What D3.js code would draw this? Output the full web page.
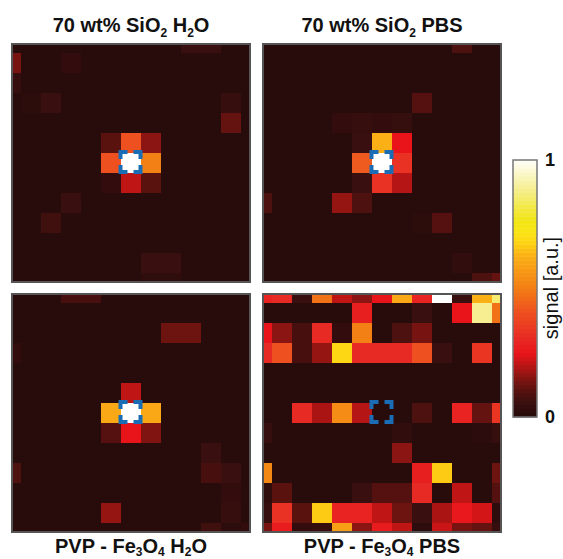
<!DOCTYPE html>
<html>
<head>
<meta charset="utf-8">
<script src="https://cdn.jsdelivr.net/npm/d3@7"></script>
<style>
  html, body { margin: 0; padding: 0; background: #fff; overflow: hidden; }
  text { font-family: "Liberation Sans", Arial, sans-serif; fill: #111; }
</style>
</head>
<body>
<div id="chart"></div>
<script>
// signal per pixel, 13 x 13
const sio2Water = [
  [0, 0, 0, 0, 0, 0, 0, 0, 0, .05, .05, 0, 0],
  [.13, 0, 0, .03, 0, 0, 0, 0, 0, 0, 0, 0, 0],
  [.04, 0, 0, 0, 0, 0, 0, 0, 0, 0, 0, 0, 0],
  [0, .015, .05, 0, 0, 0, 0, 0, 0, 0, 0, .04, 0],
  [0, 0, 0, 0, 0, 0, 0, 0, 0, 0, 0, .11, 0],
  [0, 0, 0, 0, 0, .1, .4, .15, 0, 0, 0, 0, 0],
  [0, 0, 0, 0, 0, .4, 1, .5, 0, 0, 0, 0, 0],
  [0, 0, 0, 0, 0, .03, .2, .1, 0, 0, 0, 0, 0],
  [0, 0, 0, .05, 0, 0, 0, 0, 0, 0, 0, 0, 0],
  [0, 0, .06, 0, 0, 0, 0, 0, 0, 0, 0, 0, 0],
  [0, 0, 0, 0, 0, 0, 0, 0, 0, 0, 0, 0, 0],
  [0, 0, 0, 0, 0, 0, 0, .05, .05, 0, 0, 0, 0],
  [0, 0, 0, 0, 0, 0, 0, .02, .02, 0, 0, 0, 0]
];
const sio2Pbs = [
  [0, 0, 0, 0, 0, 0, 0, 0, 0, 0, .08, 0, 0],
  [0, 0, 0, 0, 0, 0, 0, 0, 0, 0, 0, 0, 0],
  [0, 0, 0, 0, 0, 0, 0, 0, 0, 0, 0, 0, 0],
  [0, 0, 0, 0, 0, 0, 0, 0, .09, 0, 0, 0, 0],
  [0, 0, 0, 0, .03, .04, .03, .035, 0, 0, 0, 0, 0],
  [0, 0, 0, 0, 0, .05, .62, .24, 0, 0, 0, 0, 0],
  [0, 0, 0, 0, 0, .42, 1, .32, 0, 0, 0, 0, 0],
  [0, 0, 0, 0, 0, .05, .32, .19, 0, 0, 0, 0, 0],
  [.08, 0, 0, 0, .16, .08, 0, 0, 0, 0, 0, 0, 0],
  [0, 0, 0, 0, 0, 0, 0, 0, .015, .09, 0, 0, 0],
  [0, 0, 0, 0, 0, 0, 0, 0, 0, 0, 0, 0, 0],
  [0, 0, 0, 0, 0, 0, 0, 0, 0, 0, .025, 0, 0],
  [0, 0, 0, 0, 0, 0, 0, 0, 0, 0, 0, .08, .11]
];
const fe3o4Water = [
  [0, 0, 0, .07, .07, 0, 0, 0, 0, 0, 0, 0, 0],
  [0, 0, 0, 0, 0, 0, 0, 0, 0, 0, 0, 0, 0],
  [0, 0, 0, 0, 0, 0, 0, 0, .12, .12, 0, 0, 0],
  [.03, 0, 0, 0, 0, 0, 0, 0, 0, 0, 0, 0, 0],
  [0, 0, 0, 0, 0, 0, 0, 0, 0, 0, 0, 0, 0],
  [0, 0, 0, 0, 0, 0, .2, 0, 0, 0, 0, 0, 0],
  [0, 0, 0, 0, 0, .6, 1, .6, 0, 0, 0, 0, 0],
  [0, 0, 0, 0, 0, .09, .24, .14, 0, 0, 0, 0, 0],
  [0, 0, 0, 0, 0, 0, 0, 0, 0, 0, .05, 0, 0],
  [.08, 0, 0, 0, 0, 0, 0, 0, 0, 0, .07, .05, 0],
  [0, 0, 0, 0, 0, 0, 0, 0, 0, 0, 0, .03, 0],
  [0, 0, 0, 0, 0, .16, 0, 0, 0, 0, 0, .04, 0],
  [0, 0, 0, 0, 0, 0, 0, 0, 0, 0, .06, .01, .03]
];
const fe3o4Pbs = [
  [.28, .3, .05, .47, .2, .15, .24, .6, .28, 1, .05, .62, .85],
  [0, 0, 0, 0, 0, .27, 0, 0, .05, 0, .24, .88, .47],
  [.24, .15, .07, .3, .03, .5, 0, .08, .13, 0, 0, 0, 0],
  [.3, .4, .07, .16, .68, .3, .3, .3, .4, .05, 0, .33, 0],
  [0, 0, 0, 0, 0, 0, 0, 0, 0, 0, 0, 0, 0],
  [0, 0, 0, 0, 0, 0, 0, 0, 0, 0, 0, 0, 0],
  [0, 0, .3, .18, .53, .19, 0, 0, .08, 0, .28, .11, .33],
  [.04, 0, 0, 0, 0, 0, 0, .025, 0, 0, 0, .01, .04],
  [0, 0, 0, 0, 0, 0, 0, .15, 0, 0, 0, 0, 0],
  [.52, 0, 0, 0, 0, 0, 0, 0, .27, .66, 0, 0, .12],
  [.02, .1, 0, 0, 0, .05, .09, .09, .3, 0, .2, 0, .09],
  [.04, .32, .1, .66, .28, .28, .2, .12, .05, .18, .25, .22, .01],
  [.13, .26, .03, .04, .58, .15, .26, .2, .01, .21, .13, .11, .04]
];
const panelGrids = [sio2Water, sio2Pbs, fe3o4Water, fe3o4Pbs];
const panelTitles = [
  [["70 wt% SiO"], ["2", 1], [" H"], ["2", 1], ["O"]],
  [["70 wt% SiO"], ["2", 1], [" PBS"]],
  [["PVP - Fe"], ["3", 1], ["O"], ["4", 1], [" H"], ["2", 1], ["O"]],
  [["PVP - Fe"], ["3", 1], ["O"], ["4", 1], [" PBS"]]
];
const colorStops = [0, .05, .1, .15, .2, .24, .3, .4, .5, .62, .67, .71, .76, .88, 1];
const colorValues = ["#280b0b", "#3a0f0f", "#5a120f", "#8a1512", "#c01515", "#e8141a",
  "#e82a24", "#ee5020", "#f38014", "#fbb016", "#fdd214", "#fbe414", "#f1e614", "#f6ee90", "#ffffff"];
const colorbarTicks = [0, 1];

const width = 563;
const height = 559;
const cellSize = 20;
const gridSize = 13;
const frameSize = 240;

const color = d3.scaleLinear().domain(colorStops).range(colorValues);

const svg = d3.select("#chart").append("svg")
  .attr("width", width)
  .attr("height", height);

// top left corner of each panel frame
const panelX = [11, 262];
const panelY = [43, 293];

panelGrids.forEach((grid, p) => {
  const fx = panelX[p % 2];
  const fy = panelY[Math.floor(p / 2)];
  const center = frameSize / 2;

  // the image is a bit larger than the frame, outer pixels get cut off
  const x = d3.scaleBand().domain(d3.range(gridSize))
    .range([center - gridSize * cellSize / 2, center + gridSize * cellSize / 2]);
  const y = d3.scaleBand().domain(d3.range(gridSize))
    .range([center - gridSize * cellSize / 2, center + gridSize * cellSize / 2]);

  const g = svg.append("g").attr("transform", `translate(${fx},${fy})`);

  g.append("clipPath").attr("id", `clip${p}`)
    .append("rect").attr("width", frameSize).attr("height", frameSize);

  const cells = [];
  grid.forEach((row, r) => row.forEach((v, c) => cells.push({ r, c, v })));

  g.append("g").attr("clip-path", `url(#clip${p})`)
    .selectAll("rect")
    .data(cells)
    .join("rect")
    .attr("x", (d) => x(d.c))
    .attr("y", (d) => y(d.r))
    .attr("width", x.bandwidth())
    .attr("height", y.bandwidth())
    .attr("shape-rendering", "crispEdges")
    .attr("fill", (d) => color(d.v));

  // frame
  g.append("rect")
    .attr("x", 1).attr("y", 1)
    .attr("width", frameSize - 2).attr("height", frameSize - 2)
    .attr("fill", "none")
    .attr("stroke", "#555")
    .attr("stroke-width", 2);

  // dashed marker round the center pixel
  const mid = Math.floor(gridSize / 2);
  g.append("rect")
    .attr("x", x(mid) - 0.5)
    .attr("y", y(mid) - 1)
    .attr("width", cellSize)
    .attr("height", cellSize)
    .attr("fill", "none")
    .attr("stroke", "#1a6db5")
    .attr("stroke-width", 4)
    .attr("stroke-dasharray", "14 6")
    .attr("stroke-dashoffset", 7);

  // title above for the top row, below for the bottom row
  const title = g.append("text")
    .attr("x", center)
    .attr("y", p < 2 ? -11 : 260)
    .attr("text-anchor", "middle")
    .attr("font-size", 20)
    .attr("font-weight", "bold");
  // bottom titles sit close to the page edge, so their subscripts drop less
  const subShift = p < 2 ? 5 : 3;
  panelTitles[p].forEach(([s, sub]) => {
    const t = title.append("tspan").text(s);
    if (sub) t.attr("font-size", 12).attr("dy", subShift);
    else if (t.node().previousSibling) t.attr("dy", -subShift);
  });
});

// colorbar
const barX = 513;
const barW = 24;
const barScale = d3.scaleLinear().domain([0, 1]).range([417, 160]);
const barSteps = d3.range(0, 1, 1 / 64);

const bar = svg.append("g");
bar.selectAll("rect")
  .data(barSteps)
  .join("rect")
  .attr("x", barX)
  .attr("y", (d) => barScale(d + 1 / 64))
  .attr("width", barW)
  .attr("height", barScale(0) - barScale(1 / 64) + 0.5)
  .attr("fill", (d) => color(d));
bar.append("rect")
  .attr("x", barX).attr("y", barScale(1))
  .attr("width", barW).attr("height", barScale(0) - barScale(1))
  .attr("fill", "none")
  .attr("stroke", "#777")
  .attr("stroke-width", 1.5);

const barAxis = svg.append("g")
  .attr("transform", `translate(${barX + barW},0)`)
  .call(d3.axisRight(barScale).tickValues(colorbarTicks).tickSize(0).tickPadding(8).tickFormat(d3.format("d")));
barAxis.select(".domain").remove();
barAxis.selectAll("text")
  .attr("font-size", 18)
  .attr("font-weight", "bold")
  .attr("font-family", "Liberation Sans, Arial, sans-serif")
  .style("fill", "#111");

svg.append("text")
  .attr("transform", "translate(558,288) rotate(-90)")
  .attr("text-anchor", "middle")
  .attr("font-size", 20)
  .text("signal [a.u.]");
</script>
</body>
</html>
